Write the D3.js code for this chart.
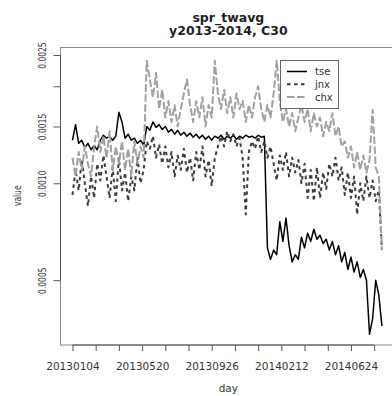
<!DOCTYPE html>
<html><head><meta charset="utf-8">
<script src="https://cdn.jsdelivr.net/npm/d3@7"></script>
<style>body{margin:0;background:#fff}svg{display:block}</style>
</head><body><svg id="c" width="392" height="396"></svg>
<script>
const seriesNames = ["tse", "jnx", "chx"];
const nDays = 404;
const dayStep = 4;
const tickDays = [1, 31, 61, 91, 121, 151, 181, 211, 241, 271, 301, 331, 361, 391];
const labelDays = [1, 91, 181, 271, 361];
const dayLabels = ["20130104", "20130520", "20130926", "20140212", "20140624"];
const yTicks = [0.0005, 0.0010, 0.0015, 0.0020, 0.0025];
const yTickLabels = ["0.0005", "0.0010", "0.0015", "", "0.0025"];

const tse = [0.00136,0.00152,0.00133,0.00136,0.00129,0.00133,0.00127,0.00131,0.00127,0.00136,
0.00141,0.00138,0.00140,0.00136,0.00140,0.00166,0.00155,0.00138,0.00142,0.00136,
0.00138,0.00133,0.00136,0.00131,0.00150,0.00146,0.00155,0.00149,0.00152,0.00147,
0.00150,0.00144,0.00147,0.00142,0.00146,0.00141,0.00144,0.00140,0.00143,0.00139,
0.00142,0.00138,0.00141,0.00137,0.00140,0.00136,0.00140,0.00138,0.00141,0.00137,
0.00140,0.00138,0.00141,0.00137,0.00140,0.00138,0.00141,0.00139,0.00140,0.00138,
0.00141,0.00139,0.00140,0.00063,0.00058,0.00062,0.00060,0.00076,0.00066,0.00078,
0.00064,0.00057,0.00060,0.00058,0.00068,0.00063,0.00070,0.00066,0.00072,0.00067,
0.00069,0.00065,0.00067,0.00062,0.00066,0.00060,0.00064,0.00057,0.00061,0.00054,
0.00059,0.00053,0.00057,0.00051,0.00054,0.00050,0.00034,0.00038,0.00050,0.00045,
0.00036];
const jnx = [0.00092,0.00110,0.00095,0.00118,0.00100,0.00085,0.00105,0.00090,0.00115,0.00102,
0.00122,0.00105,0.00090,0.00112,0.00088,0.00120,0.00095,0.00108,0.00088,0.00105,
0.00095,0.00120,0.00100,0.00110,0.00135,0.00128,0.00140,0.00120,0.00132,0.00115,
0.00130,0.00112,0.00125,0.00105,0.00122,0.00110,0.00128,0.00108,0.00120,0.00102,
0.00125,0.00110,0.00130,0.00105,0.00118,0.00098,0.00120,0.00130,0.00140,0.00130,
0.00145,0.00135,0.00142,0.00130,0.00138,0.00120,0.00080,0.00125,0.00135,0.00128,
0.00140,0.00125,0.00135,0.00120,0.00130,0.00115,0.00102,0.00122,0.00110,0.00125,
0.00105,0.00120,0.00108,0.00118,0.00100,0.00115,0.00090,0.00110,0.00088,0.00112,
0.00090,0.00108,0.00096,0.00115,0.00105,0.00120,0.00102,0.00112,0.00092,0.00108,
0.00090,0.00105,0.00080,0.00100,0.00088,0.00105,0.00090,0.00102,0.00088,0.00095,
0.00062];
const chx = [0.00120,0.00105,0.00125,0.00110,0.00130,0.00115,0.00105,0.00130,0.00150,0.00125,
0.00140,0.00120,0.00145,0.00110,0.00130,0.00115,0.00135,0.00110,0.00128,0.00105,
0.00135,0.00115,0.00130,0.00120,0.00240,0.00210,0.00185,0.00220,0.00170,0.00195,
0.00160,0.00180,0.00155,0.00175,0.00150,0.00170,0.00190,0.00210,0.00175,0.00155,
0.00180,0.00160,0.00185,0.00150,0.00175,0.00160,0.00240,0.00190,0.00170,0.00195,
0.00165,0.00185,0.00160,0.00190,0.00170,0.00180,0.00155,0.00175,0.00160,0.00185,
0.00200,0.00170,0.00155,0.00175,0.00160,0.00190,0.00240,0.00180,0.00155,0.00170,
0.00150,0.00165,0.00145,0.00160,0.00175,0.00155,0.00170,0.00145,0.00165,0.00150,
0.00160,0.00140,0.00155,0.00145,0.00165,0.00140,0.00150,0.00130,0.00135,0.00120,
0.00130,0.00112,0.00125,0.00110,0.00122,0.00108,0.00118,0.00169,0.00112,0.00105,
0.00062];

const seriesValues = [tse, jnx, chx];
const seriesStyle = [
  {color: "#000000", width: 1.5, dash: null},
  {color: "#3c3c3c", width: 2, dash: "3.5,3.5"},
  {color: "#a0a0a0", width: 2, dash: "7.5,2.5"}
];

const svg = d3.select("#c");
const plotLeft = 60, plotTop = 47, plotBottom = 344.5;
const pxPerDay = 0.7736;
const ext = 0.04 * (nDays - 1);
const x = d3.scaleLinear().domain([1 - ext, nDays + ext])
  .range([plotLeft, plotLeft + (nDays - 1 + 2 * ext) * pxPerDay]);
const y = d3.scaleLog().domain([0.0003158, 0.002648]).range([plotBottom, plotTop]);
const plotRight = x.range()[1];

svg.append("defs").append("clipPath").attr("id", "clip")
  .append("rect").attr("x", plotLeft).attr("y", plotTop)
  .attr("width", plotRight - plotLeft).attr("height", plotBottom - plotTop);

const fontFam = "DejaVu Sans, sans-serif";

// series
const line = d3.line().x((d, i) => x(1 + dayStep * i)).y(d => y(d));
const g = svg.append("g").attr("clip-path", "url(#clip)");
seriesValues.forEach((vals, si) => {
  const st = seriesStyle[si];
  g.append("path").datum(vals)
    .attr("d", line)
    .attr("fill", "none")
    .attr("stroke", st.color)
    .attr("stroke-width", st.width)
    .attr("stroke-linejoin", "round")
    .attr("stroke-dasharray", st.dash);
});

// box
svg.append("rect").attr("x", plotLeft + 0.5).attr("y", plotTop + 0.5)
  .attr("width", plotRight - plotLeft).attr("height", plotBottom - plotTop)
  .attr("fill", "none").attr("stroke", "#888").attr("stroke-width", 1);

// x axis
const xAxis = d3.axisBottom(x).tickValues(tickDays).tickSize(6)
  .tickFormat(d => { const j = labelDays.indexOf(d); return j >= 0 ? dayLabels[j] : ""; });
const gx = svg.append("g").attr("transform", `translate(0,${plotBottom + 0.5})`).call(xAxis);
gx.select(".domain").attr("d", `M${x(tickDays[0])},0H${x(tickDays[tickDays.length - 1])}`).attr("stroke", "#555");
gx.selectAll(".tick line").attr("stroke", "#555");
gx.selectAll(".tick text").attr("font-family", fontFam).attr("font-size", "10.5px")
  .attr("fill", "#333").attr("y", 0).attr("dy", "25px");

// y axis
const yAxis = d3.axisLeft(y).tickValues(yTicks).tickSize(7)
  .tickFormat((d, i) => yTickLabels[i]);
const gy = svg.append("g").attr("transform", `translate(${plotLeft + 0.5},0)`).call(yAxis);
gy.select(".domain").attr("d", `M0,${y(yTicks[0])}V${y(yTicks[yTicks.length - 1])}`).attr("stroke", "#555");
gy.selectAll(".tick line").attr("stroke", "#555");
gy.selectAll(".tick text").attr("font-family", fontFam).attr("font-size", "10.5px")
  .attr("fill", "#333").attr("x", null).attr("dy", null)
  .attr("text-anchor", "middle")
  .attr("transform", "translate(-14.5,0) rotate(-90) scale(0.72,1)");

// axis titles
svg.append("text").attr("x", (plotLeft + plotRight) / 2).attr("y", 392)
  .attr("text-anchor", "middle").attr("font-family", fontFam).attr("font-size", "10.5px")
  .attr("fill", "#333").text("day");
svg.append("text").attr("transform", `translate(21,${(plotTop + plotBottom) / 2}) rotate(-90) scale(0.72,1)`)
  .attr("text-anchor", "middle").attr("font-family", fontFam).attr("font-size", "10.5px")
  .attr("fill", "#333").text("value");

// title
const cx = (plotLeft + plotRight) / 2;
svg.append("text").attr("x", cx).attr("y", 21.5).attr("text-anchor", "middle")
  .attr("font-family", fontFam).attr("font-weight", "bold").attr("font-size", "12.5px")
  .attr("fill", "#222").text("spr_twavg");
svg.append("text").attr("x", cx).attr("y", 35).attr("text-anchor", "middle")
  .attr("font-family", fontFam).attr("font-weight", "bold").attr("font-size", "12.5px")
  .attr("fill", "#222").text("y2013-2014, C30");

// legend
const lg = svg.append("g");
lg.append("rect").attr("x", 280.5).attr("y", 60.5).attr("width", 58).attr("height", 48)
  .attr("fill", "#fff").attr("stroke", "#666").attr("stroke-width", 1);
seriesNames.forEach((nm, i) => {
  const yy = 71.5 + i * 12.8;
  const st = seriesStyle[i];
  lg.append("line").attr("x1", 287).attr("x2", 307).attr("y1", yy).attr("y2", yy)
    .attr("stroke", st.color).attr("stroke-width", st.width).attr("stroke-dasharray", st.dash);
  lg.append("text").attr("x", 315).attr("y", yy + 3.5)
    .attr("font-family", fontFam).attr("font-size", "10px").attr("fill", "#333").text(nm);
});
</script></body></html>
